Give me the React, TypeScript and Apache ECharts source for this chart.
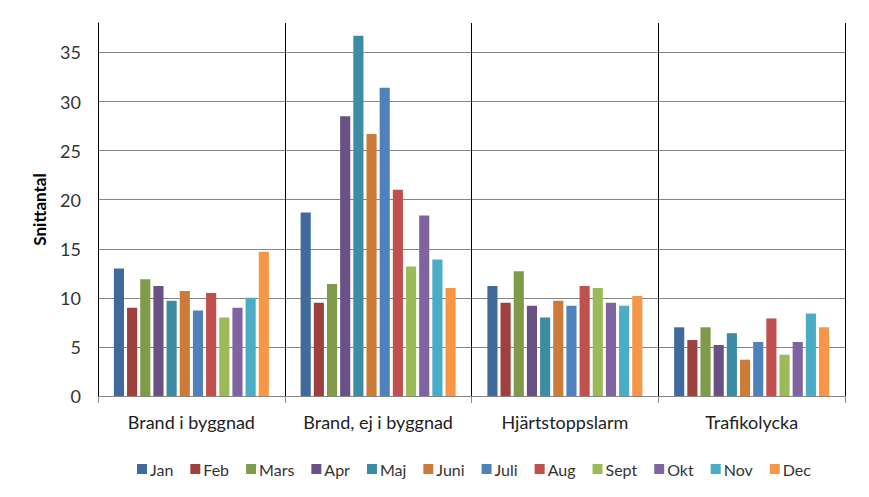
import React, { useEffect, useRef } from "react";
import * as echarts from "echarts";

const categories = ["Brand i byggnad", "Brand, ej i byggnad", "Hjärtstoppslarm", "Trafikolycka"];
const months = ["Jan", "Feb", "Mars", "Apr", "Maj", "Juni", "Juli", "Aug", "Sept", "Okt", "Nov", "Dec"];

const jan = [13.0, 18.7, 11.2, 7.0];
const feb = [9.0, 9.5, 9.5, 5.7];
const mars = [11.9, 11.4, 12.7, 7.0];
const apr = [11.2, 28.5, 9.2, 5.2];
const maj = [9.7, 36.7, 8.0, 6.4];
const juni = [10.7, 26.7, 9.7, 3.7];
const juli = [8.7, 31.4, 9.2, 5.5];
const aug = [10.5, 21.0, 11.2, 7.9];
const sept = [8.0, 13.2, 11.0, 4.2];
const okt = [9.0, 18.4, 9.5, 5.5];
const nov = [10.0, 13.9, 9.2, 8.4];
const dec = [14.7, 11.0, 10.2, 7.0];

const seriesValues = [jan, feb, mars, apr, maj, juni, juli, aug, sept, okt, nov, dec];
const colors = [
  "#416A9C", "#9E413E", "#7F9A48", "#695185", "#3C8DA3", "#CC7B38",
  "#4F81BD", "#C0504D", "#9BBB59", "#8064A2", "#4BACC6", "#F79646",
];

const FONT = "Lato";

export default function App() {
  const ref = useRef<HTMLDivElement>(null);
  useEffect(() => {
    if (!ref.current) return;
    const chart = echarts.init(ref.current, null, { renderer: "svg" });
    chart.setOption({
      animation: false,
      backgroundColor: "#ffffff",
      textStyle: { fontFamily: FONT },
      grid: { left: 98, right: 24, top: 23, bottom: 101, containLabel: false },
      legend: {
        data: months,
        top: 456,
        left: 132,
        itemWidth: 10,
        itemHeight: 10,
        itemGap: 17,
        icon: "rect",
        textStyle: { fontFamily: FONT, fontSize: 16, color: "#333", padding: [0, 0, 0, -2] },
      },
      xAxis: {
        type: "category",
        data: categories,
        boundaryGap: true,
        axisLine: { show: true, lineStyle: { color: "#868686", width: 1 } },
        axisTick: { show: true, interval: 0, length: 7, lineStyle: { color: "#868686" } },
        splitLine: { show: true, interval: 0, lineStyle: { color: "#000000", width: 1 } },
        axisLabel: { fontFamily: FONT, fontSize: 18, color: "#222", margin: 17, interval: 0, hideOverlap: false },
      },
      yAxis: {
        type: "value",
        min: 0,
        max: 38,
        interval: 5,
        name: "Snittantal",
        nameLocation: "middle",
        nameRotate: 90,
        nameGap: 50,
        nameTextStyle: { fontFamily: FONT, fontSize: 17, fontWeight: "bold", color: "#000" },
        axisLine: { show: true, lineStyle: { color: "#000000", width: 1 } },
        axisTick: { show: false },
        splitLine: { show: true, showMaxLine: false, lineStyle: { color: "#868686", width: 1 } },
        axisLabel: { fontFamily: FONT, fontSize: 18, color: "#333", margin: 17, showMaxLabel: false },
      },
      series: seriesValues.map((vals, i) => ({
        name: months[i],
        type: "bar",
        data: vals,
        barGap: "30%",
        barCategoryGap: "17%",
        itemStyle: { color: colors[i] },
      })),
    });
    return () => chart.dispose();
  }, []);
  return <div ref={ref} style={{ position: "absolute", left: 0, top: 0, width: 869, height: 497 }} />;
}
